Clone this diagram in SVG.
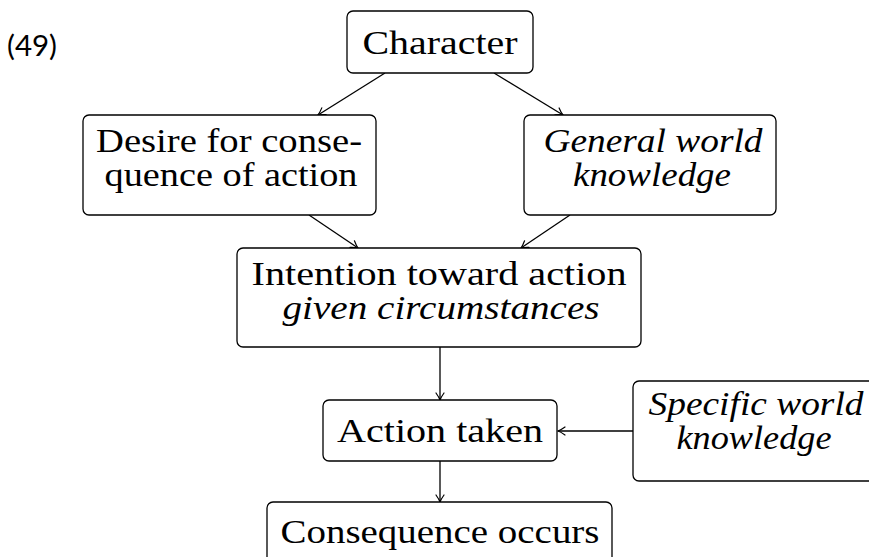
<svg xmlns="http://www.w3.org/2000/svg" width="869" height="557" viewBox="0 0 869 557">
<style>
.box{fill:#fff;stroke:#000;stroke-width:1.3}
.t{font-family:"Liberation Serif","DejaVu Serif",serif;font-size:33px;fill:#000;text-anchor:middle}
.i{font-style:italic}
.c{fill:none;stroke:#000;stroke-width:1.3}
</style>
<defs>
<marker id="ah" viewBox="-8 -5 10 10" markerWidth="10" markerHeight="10" refX="0" refY="0" orient="auto" markerUnits="userSpaceOnUse">
<path d="M-7,-4 Q-2.5,-0.8 0,0 Q-2.5,0.8 -7,4" fill="none" stroke="#000" stroke-width="1.2" stroke-linecap="round"/>
</marker>
</defs>
<text x="7" y="56" font-family="Lato,'Open Sans',sans-serif" font-size="29" fill="#000" textLength="50" lengthAdjust="spacingAndGlyphs">(49)</text>
<g id="connectors">
<line class="c" x1="385" y1="73" x2="318" y2="115" marker-end="url(#ah)"/>
<line class="c" x1="494" y1="73" x2="563" y2="115" marker-end="url(#ah)"/>
<line class="c" x1="309" y1="215" x2="358" y2="248" marker-end="url(#ah)"/>
<line class="c" x1="570" y1="215" x2="521" y2="248" marker-end="url(#ah)"/>
<line class="c" x1="440" y1="347" x2="440" y2="400" marker-end="url(#ah)"/>
<line class="c" x1="633" y1="431" x2="558" y2="431" marker-end="url(#ah)"/>
<line class="c" x1="440" y1="461" x2="440" y2="502" marker-end="url(#ah)"/>
</g>
<g id="character">
<rect class="box" x="347" y="11" width="186" height="62" rx="6"/>
<text class="t" x="440" y="54" textLength="155" lengthAdjust="spacingAndGlyphs">Character</text>
</g>
<g id="desire">
<rect class="box" x="83" y="115" width="293" height="100" rx="6"/>
<text class="t" x="229" y="152" textLength="266" lengthAdjust="spacingAndGlyphs">Desire for conse-</text>
<text class="t" x="231" y="186" textLength="253" lengthAdjust="spacingAndGlyphs">quence of action</text>
</g>
<g id="general">
<rect class="box" x="524" y="115" width="252" height="100" rx="6"/>
<text class="t i" x="653" y="152" textLength="219" lengthAdjust="spacingAndGlyphs">General world</text>
<text class="t i" x="652" y="186" textLength="158" lengthAdjust="spacingAndGlyphs">knowledge</text>
</g>
<g id="intention">
<rect class="box" x="237" y="248" width="404" height="99" rx="6"/>
<text class="t" x="439" y="285" textLength="375" lengthAdjust="spacingAndGlyphs">Intention toward action</text>
<text class="t i" x="441" y="319" textLength="317" lengthAdjust="spacingAndGlyphs">given circumstances</text>
</g>
<g id="action">
<rect class="box" x="323" y="400" width="234" height="61" rx="6"/>
<text class="t" x="440" y="442" textLength="206" lengthAdjust="spacingAndGlyphs">Action taken</text>
</g>
<g id="specific">
<rect class="box" x="633" y="381" width="252" height="100" rx="6"/>
<text class="t i" x="756" y="415" textLength="215" lengthAdjust="spacingAndGlyphs">Specific world</text>
<text class="t i" x="754" y="449" textLength="155" lengthAdjust="spacingAndGlyphs">knowledge</text>
</g>
<g id="consequence">
<rect class="box" x="267" y="502" width="345" height="62" rx="6"/>
<text class="t" x="440" y="543" textLength="319" lengthAdjust="spacingAndGlyphs">Consequence occurs</text>
</g>
</svg>
